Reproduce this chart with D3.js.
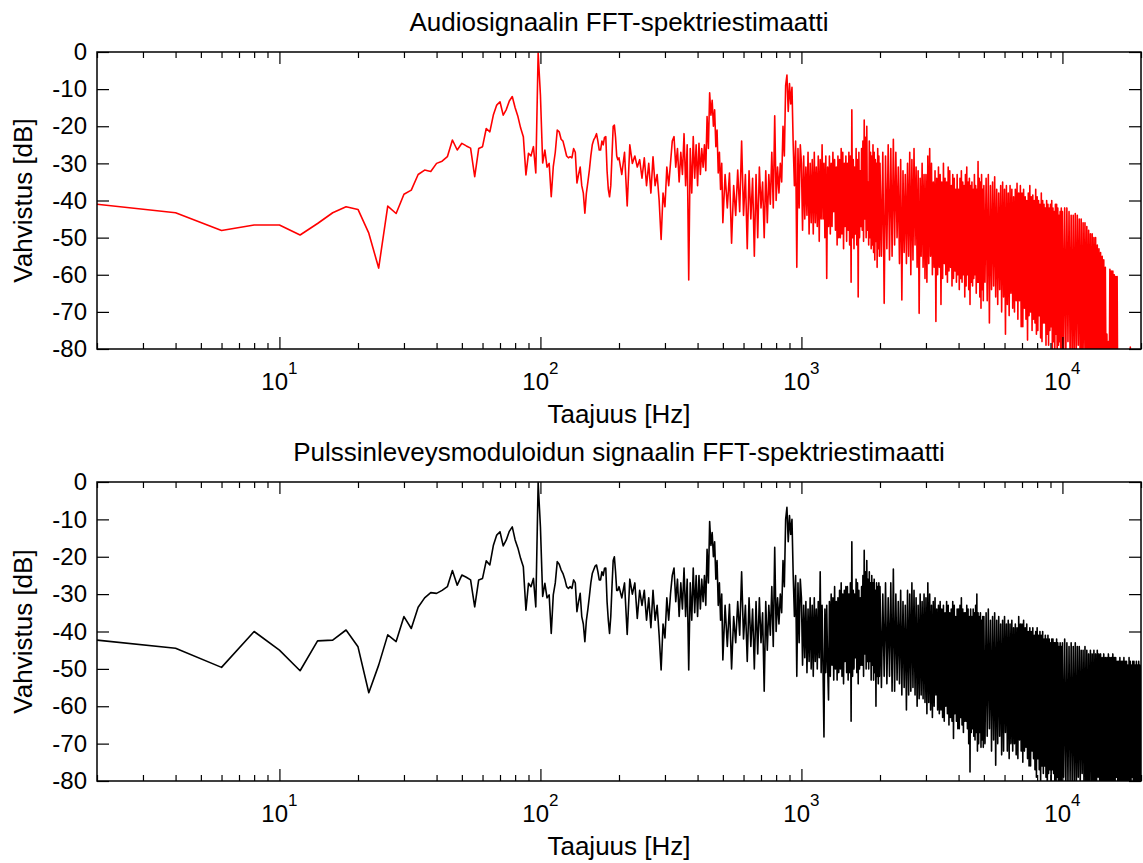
<!DOCTYPE html>
<html>
<head>
<meta charset="utf-8">
<script src="https://d3js.org/d3.v7.min.js"></script>
<style>
  body { margin: 0; background: #fff; }
  text { font-family: Arial, 'Liberation Sans', sans-serif; fill: #000; }
</style>
</head>
<body>
<div id="vis"></div>
<script>
// FFT bin frequencies [Hz] (sampled along the spectrum, denser bins decimated)
const freq = [
  2,4,6,8,10,12,14,16,18,20,
  22,24,26,28,30,32,34,36,38,40,
  42,44,46,48,50,52,54,56,58,60,
  62,64,66,68,70,72,74,76,78,80,
  82,84,86,88,90,92,94,96,98,
  100,102,104,106,108,110,112,114,116,118,
  120,122,124,126,128,130,132,134,136,138,
  140,142,144,146,148,150,152,154,156,158,
  160,162,164,166,168,170,172,174,176,178,
  180,182,184,186,188,190,192,194,196,198,
  200,205,210,215,220,225,230,235,240,245,
  250,255,260,265,270,275,280,285,290,295,
  300,305,310,315,320,325,330,335,340,345,
  350,355,360,365,370,375,380,385,390,395,
  400,405,410,415,420,425,430,435,440,445,
  450,455,460,465,470,475,480,485,490,495,
  500,510,520,530,540,550,560,570,580,590,
  600,610,620,630,640,650,660,670,680,690,
  700,710,720,730,740,750,760,770,780,790,
  800,810,820,830,840,850,860,870,880,890,
  900,910,920,930,940,950,960,970,980,990,
  1000,1010,1020,1030,1040,1050,1060,1070,1080,1090,
  1100,1110,1120,1130,1140,1150,1160,1170,1180,1190,
  1200,1210,1220,1230,1240,1250,1260,1270,1280,1290,
  1300,1310,1320,1330,1340,1350,1360,1370,1380,1390,
  1400,1410,1420,1430,1440,1450,1460,1470,1480,1490,
  1500,1510,1520,1530,1540,1550,1560,1570,1580,1590,
  1600,1610,1620,1630,1640,1650,1660,1670,1680,1690,
  1700,1710,1720,1730,1740,1750,1760,1770,1780,1790,
  1800,1810,1820,1830,1840,1850,1860,1870,1880,1890,
  1900,1910,1920,1930,1940,1950,1960,1970,1980,1990,
  2000,2025,2050,2075,2100,2125,2150,2175,2200,2225,
  2250,2275,2300,2325,2350,2375,2400,2425,2450,2475,
  2500,2525,2550,2575,2600,2625,2650,2675,2700,2725,
  2750,2775,2800,2825,2850,2875,2900,2925,2950,2975,
  3000,3025,3050,3075,3100,3125,3150,3175,3200,3225,
  3250,3275,3300,3325,3350,3375,3400,3425,3450,3475,
  3500,3525,3550,3575,3600,3625,3650,3675,3700,3725,
  3750,3775,3800,3825,3850,3875,3900,3925,3950,3975,
  4000,4025,4050,4075,4100,4125,4150,4175,4200,4225,
  4250,4275,4300,4325,4350,4375,4400,4425,4450,4475,
  4500,4525,4550,4575,4600,4625,4650,4675,4700,4725,
  4750,4775,4800,4825,4850,4875,4900,4925,4950,4975,
  5000,5050,5100,5150,5200,5250,5300,5350,5400,5450,
  5500,5550,5600,5650,5700,5750,5800,5850,5900,5950,
  6000,6050,6100,6150,6200,6250,6300,6350,6400,6450,
  6500,6550,6600,6650,6700,6750,6800,6850,6900,6950,
  7000,7050,7100,7150,7200,7250,7300,7350,7400,7450,
  7500,7550,7600,7650,7700,7750,7800,7850,7900,7950,
  8000,8050,8100,8150,8200,8250,8300,8350,8400,8450,
  8500,8550,8600,8650,8700,8750,8800,8850,8900,8950,
  9000,9050,9100,9150,9200,9250,9300,9350,9400,9450,
  9500,9550,9600,9650,9700,9750,9800,9850,9900,9950,
  10000,10100,10200,10300,10400,10500,10600,10700,10800,10900,
  11000,11100,11200,11300,11400,11500,11600,11700,11800,11900,
  12000,12100,12200,12300,12400,12500,12600,12700,12800,12900,
  13000,13100,13200,13300,13400,13500,13600,13700,13800,13900,
  14000,14100,14200,14300,14400,14500,14600,14700,14800,14900,
  15000,15100,15200,15300,15400,15500,15600,15700,15800,15900,
  16000,16100,16200,16300,16400,16500,16600,16700,16800,16900,
  17000,17100,17200,17300,17400,17500,17600,17700,17800,17900,
  18000,18100,18200,18300,18400,18500,18600,18700,18800,18900,
  19000,19100,19200,19300,19400,19500,19600,19700,19800,19900,
  20000
];

// audio signal spectrum [dB]
const audioDb = [
  -41,-43.3,-48.1,-46.6,-46.6,-49.3,-46.2,-43.3,-41.7,-42.4,
  -48.8,-58.2,-41.5,-43.5,-38.3,-37.2,-33,-31.8,-32.2,-30,
  -29.4,-28.2,-23.7,-26.4,-24.6,-25.3,-25.9,-33.6,-26,-25.5,
  -20.6,-21.5,-17,-14.3,-13.4,-17,-15.5,-13.2,-12,-15,
  -17.4,-20.5,-22.8,-33.1,-27.3,-28,-25.5,-32.6,-0.3,
  -11.6,-29.9,-26.4,-31,-30,-39,-30.9,-27,-21,-21.5,
  -23.5,-24,-26,-28,-28.5,-28.2,-28.5,-26,-27,-35.3,
  -33,-31,-36,-38,-43.4,-38,-35,-31.8,-28,-25,
  -23.7,-23,-22,-24,-26.4,-26.4,-24,-25,-23,-22.8,
  -32,-37,-39,-36,-28,-20,-19.7,-23,-28,-29,
  -28.5,-33,-27,-41.5,-25,-30,-28,-31,-29,-34,
  -28.5,-36,-30,-38,-28.2,-36,-33,-40,-50.5,-38,
  -41.7,-31,-36,-30,-24,-22.8,-31,-26,-35,-27,
  -33,-22,-36,-25,-61.4,-26,-38,-22.8,-34,-25,
  -36,-24.6,-33,-26,-31,-25,-32,-17.4,-26,-11,
  -17,-13,-20,-15.6,-25.5,-21,-32.6,-27,-37,-30,
  -46,-33,-42,-32.6,-51.5,-36,-44,-31.8,-43,-24,
  -44,-33,-53,-32,-45,-34,-55,-33,-50,-31,
  -42,-35,-50,-32,-46,-33,-41,-27,-42,-17.2,
  -40,-31,-38,-30,-35,-20,-28,-9,-6.2,-16,
  -8.5,-14,-9.5,-25,-36,-24,-58,-26,-42,-25,
  -30,-48,-28,-45,-31,-44,-27,-49,-30,-46,
  -29,-49,-27,-46,-31,-47,-28,-51,-29,-45,
  -25,-45,-30,-50,-28,-61,-31,-47,-28,-49,
  -30,-47,-27,-43,-29,-48,-31,-52,-28,-50,
  -29,-50,-26,-49,-27,-53,-30,-47,-28,-51,
  -30,-48,-27,-52,-28,-62,-15.6,-50,-29,-53,
  -31,-49,-26,-52,-29,-66,-27,-50,-32,-47,
  -26,-48,-24,-51,-18.3,-45,-23,-50,-20,-48,
  -35,-52,-24,-50,-27,-53,-28,-52,-25,-54,
  -27,-56,-29,-51,-30,-58,-26,-53,-28,-55,
  -30,-55,-27,-67.7,-28,-53,-25,-56,-26,-55,
  -23.5,-52,-27,-50,-31,-57,-29,-66.8,-32,-54,
  -33,-57,-30,-55,-27,-60,-29,-56,-26,-52,
  -31,-58,-32,-70.4,-34,-55,-30,-58,-33,-61,
  -33,-62,-28,-57,-26,-55,-30,-60,-35,-58,
  -32,-72.6,-34,-60,-31,-58,-33,-68,-35,-61,
  -30,-57,-34,-60,-35,-62,-31,-59,-32,-58,
  -36,-63,-33,-61,-34,-59,-37,-62,-33,-60,
  -37,-64,-34,-61,-32,-62,-35,-60,-36,-66,
  -33,-63,-31,-60,-35,-64,-34,-68,-36,-62,
  -35,-63,-37,-61,-33,-60,-36,-65,-37,-62,
  -29.5,-62,-34,-66,-35,-69,-33,-64,-37,-67,
  -36,-62,-34,-67,-33,-73,-36,-64,-35,-63,
  -33.6,-66,-37,-68,-38,-64,-36,-70,-35,-66,
  -37,-76,-36,-68,-38,-71,-36,-65,-37,-69,
  -39,-70,-37,-67,-35.4,-72,-38,-67,-36,-74,
  -38,-74,-37,-69,-39,-72,-40,-77.6,-38,-71,
  -36,-70,-39,-75,-38.5,-72,-40,-73,-37,-76,
  -39,-75,-40,-71,-41,-77,-38,-78,-40,-73,
  -41,-73,-42,-79,-40,-76,-41,-79,-42,-75,
  -41,-74,-40,-82,-42,-78,-43,-80,-41,-76,
  -41,-85,-42,-79,-44,-78,-43,-83,-42,-80,
  -43,-80,-42,-84,-42,-78,-43,-82,-44,-86,
  -44,-85,-43.5,-81,-44,-79,-45,-87,-45,-88,
  -46,-80,-46,-85,-47,-86,-48,-83,-49,-90,
  -49,-84,-50,-88,-50,-90,-52,-86,-53,-88,
  -54,-90,-55,-92,-56,-89,-58,-92,-76,-88,
  -78,-95,-58.5,-90,-59,-94,-59,-93,-60,-91,
  -60.5,-96,-60.5,-98,-100,-104,-102,-100,-103,-105,
  -105,-102,-104,-103,-104,-101,-102,-103,-104,-102,
  -98,-95,-79.5,-96,-99,-104,-102,-105,-103,-104,
  -105,-103,-106,-104,-104,-106,-105,-106,-104,-106,
  -105
];

// pulse-width modulated signal spectrum [dB]
const pwmDb = [
  -42.3,-44.5,-49.6,-40,-45,-50.5,-42.5,-42.3,-39.6,-44.1,
  -56.4,-49,-40.9,-42.7,-36,-39.2,-33.5,-31,-29.6,-29.8,
  -29,-28,-23.7,-27.6,-24.9,-25.5,-26.2,-33.4,-26.2,-25.8,
  -21.1,-22.2,-17,-14.2,-13.3,-17.1,-15.5,-13.2,-12,-15.5,
  -17.7,-20.5,-22.7,-34.3,-27.1,-28,-25.8,-33.4,-0.2,
  -12,-30.6,-27.1,-31,-30.2,-40.5,-30.2,-27,-21.3,-22,
  -23.5,-24.5,-26,-28,-28.5,-28,-28.5,-26.2,-27,-34.7,
  -32,-29.8,-36,-38,-42.7,-37,-34,-30.6,-27,-24.5,
  -23.5,-22.5,-22.2,-24,-26.2,-26.2,-24,-25,-23.1,-23,
  -32,-37,-40.5,-36,-28,-21,-20,-24,-29,-29,
  -28,-31,-27,-40.8,-26,-30,-27,-36.5,-29,-33,
  -29,-37,-31,-39,-29,-37,-33,-41,-50.3,-38,
  -41.7,-31,-37,-30,-25,-23,-32,-26,-36,-27,
  -34,-23,-36,-26,-50.3,-27,-37,-23,-35,-25,
  -36,-25,-34,-26,-32,-25,-33,-18,-27,-10.6,
  -17,-13.5,-20,-16,-26,-21,-33,-27,-37,-30,
  -47.6,-33,-44,-32.7,-50,-36,-43,-32,-41,-24,
  -42,-33,-48,-31,-44,-34,-50,-32,-46,-31,
  -43,-35,-56,-32,-45,-33,-41,-28,-44,-17.5,
  -40,-31,-38,-30,-35,-21,-28,-10,-6.8,-16,
  -9,-14,-10,-25,-36,-25,-52,-27,-43,-26,
  -31,-49,-33,-47,-32,-51,-34,-48,-31,-50,
  -33,-52,-31,-48,-34,-50,-32,-47,-24,-51,
  -33,-50,-68.2,-34,-51,-33,-49,-58.3,-32,-52,
  -30,-49,-31,-53,-28,-50,-32,-53,-31,-51,
  -29,-50,-27,-52,-30,-54,-29,-48,-28,-51,
  -28,-53,-30,-51,-27,-64,-16,-52,-29,-50,
  -30,-47,-26,-51,-27,-54,-29,-50,-31,-49,
  -28,-49,-25,-52,-18.3,-46,-24,-50,-21,-48,
  -26,-50,-24,-48,-27,-53,-25,-49,-27,-53,
  -26,-51,-29,-60,-27,-52,-28,-54,-27,-52,
  -28,-55,-30,-52,-27,-54,-31,-52,-27,-56,
  -23.3,-56,-30,-53,-32,-54,-29,-57,-32,-55,
  -33,-61,-29,-57,-30,-56,-27,-55,-29,-57,
  -31,-60,-33,-58,-30,-57,-32,-58,-30,-59,
  -31,-62,-27,-59,-30,-61,-33,-63,-32,-60,
  -31,-57,-34,-61,-33,-62,-32,-61,-34,-63,
  -33,-64,-35,-60,-32,-62,-33,-65,-35,-63,
  -34,-64,-32,-68.6,-33,-62,-36,-64,-34,-66,
  -34,-66,-33,-63,-31,-65,-34,-67,-35,-64,
  -35,-64,-33,-66,-34,-70,-36,-77.6,-34,-67,
  -36,-66,-34,-68,-35,-69,-33,-67,-30,-72,
  -35,-70,-36,-67,-35,-71,-37,-69,-36,-71,
  -36,-70,-35,-68,-34,-66,-37,-72,-36,-69,
  -35,-75.8,-37,-70,-36,-68,-38,-73,-37,-72,
  -36,-67,-38,-72,-37,-74,-38,-70,-37,-72,
  -39,-70,-38,-73,-39,-74,-36,-69,-38,-72,
  -38,-75,-37,-72,-39,-71,-38,-74,-40,-76,
  -39,-76,-40,-72,-39,-74,-41,-77,-40,-79,
  -39,-74,-41,-77,-40,-81,-41,-76,-40,-78,
  -42,-76,-41,-79,-42,-83,-41,-78,-42,-77,
  -43,-80,-42,-77,-42,-78,-43,-81,-43,-85,
  -42,-79,-43,-82,-44,-80,-43,-82,-44,-84,
  -43,-79,-42,-84,-43,-81,-44,-80,-43,-83,
  -44,-80,-43,-86,-44,-79,-44,-82,-45,-78,
  -45,-83,-44,-85,-45,-88,-46,-81,-45,-80,
  -46,-85,-45,-82,-46,-86,-45,-79,-46,-84,
  -46,-87,-47,-81,-46,-82,-47,-85,-47,-90,
  -46,-84,-47,-80,-47,-86,-46,-82,-47,-88,
  -47,-79,-48,-85,-48,-88,-47,-83,-48,-84,
  -48,-80,-47,-86,-48,-80,-48,-85,-49,-90,
  -47,-83,-48,-86,-49,-79,-48,-84,-48,-88,
  -49,-82,-48,-85,-49,-82,-48,-86,-49,-83,
  -49
];

const yTicks = [0, -10, -20, -30, -40, -50, -60, -70, -80];
const xDecades = [10, 100, 1000, 10000];
const xMinor = [2,3,4,5,6,7,8,9, 20,30,40,50,60,70,80,90,
  200,300,400,500,600,700,800,900, 2000,3000,4000,5000,6000,7000,8000,9000, 20000];

const titles = ['Audiosignaalin FFT-spektriestimaatti',
  'Pulssinleveysmoduloidun signaalin FFT-spektriestimaatti'];
const xLabel = 'Taajuus [Hz]';
const yLabel = 'Vahvistus [dB]';

if (audioDb.length !== freq.length || pwmDb.length !== freq.length)
  throw new Error('length mismatch ' + freq.length + ' ' + audioDb.length + ' ' + pwmDb.length);

const W = 1143, H = 863;
const left = 97, right = 1141;
const panels = [
  { title: titles[0], values: audioDb, color: '#ff0000', top: 52, bottom: 349 },
  { title: titles[1], values: pwmDb, color: '#000000', top: 482, bottom: 781 }
];

const svg = d3.select('#vis').append('svg').attr('width', W).attr('height', H);
const x = d3.scaleLog().domain([2, 20000]).range([left, right]);

function styleAxis(g) {
  g.select('.domain').remove();
  g.selectAll('.tick line').attr('stroke', '#000').attr('stroke-width', 1.2);
  g.attr('font-size', 24).attr('font-family', "Arial, 'Liberation Sans', sans-serif");
  g.selectAll('.tick text').attr('fill', '#000');
}

panels.forEach((p, i) => {
  const y = d3.scaleLinear().domain([-80, 0]).range([p.bottom, p.top]);
  const g = svg.append('g');

  g.append('clipPath').attr('id', 'clip' + i)
    .append('rect')
    .attr('x', left).attr('y', p.top)
    .attr('width', right - left).attr('height', p.bottom - p.top);

  const pts = freq.map((f, k) => [f, p.values[k]]);
  const line = d3.line().x(d => x(d[0])).y(d => y(d[1]));
  g.append('path')
    .datum(pts)
    .attr('clip-path', `url(#clip${i})`)
    .attr('fill', 'none')
    .attr('stroke', p.color)
    .attr('stroke-width', 1.6)
    .attr('stroke-linejoin', 'round')
    .attr('d', line);

  // y axes, ticks pointing inward
  g.append('g').attr('transform', `translate(${left},0)`)
    .call(d3.axisLeft(y).tickValues(yTicks).tickSizeInner(-12).tickSizeOuter(0)
      .tickPadding(10).tickFormat(d => String(d)))
    .call(styleAxis);
  g.append('g').attr('transform', `translate(${right},0)`)
    .call(d3.axisRight(y).tickValues(yTicks).tickSizeInner(-12).tickSizeOuter(0).tickFormat(''))
    .call(styleAxis);

  // x axes: major and minor ticks on bottom and top
  g.append('g').attr('transform', `translate(0,${p.bottom})`)
    .call(d3.axisBottom(x).tickValues(xDecades).tickSizeInner(-12).tickSizeOuter(0).tickFormat(''))
    .call(styleAxis);
  g.append('g').attr('transform', `translate(0,${p.bottom})`)
    .call(d3.axisBottom(x).tickValues(xMinor).tickSizeInner(-6).tickSizeOuter(0).tickFormat(''))
    .call(styleAxis);
  g.append('g').attr('transform', `translate(0,${p.top})`)
    .call(d3.axisTop(x).tickValues(xDecades).tickSizeInner(-12).tickSizeOuter(0).tickFormat(''))
    .call(styleAxis);
  g.append('g').attr('transform', `translate(0,${p.top})`)
    .call(d3.axisTop(x).tickValues(xMinor).tickSizeInner(-6).tickSizeOuter(0).tickFormat(''))
    .call(styleAxis);

  // frame
  g.append('rect')
    .attr('x', left).attr('y', p.top)
    .attr('width', right - left).attr('height', p.bottom - p.top)
    .attr('fill', 'none').attr('stroke', '#000').attr('stroke-width', 1.5);

  // decade labels 10^n
  const lab = g.selectAll('.xlab').data(xDecades).enter().append('text')
    .attr('class', 'xlab')
    .attr('x', d => x(d))
    .attr('y', p.bottom + 41)
    .attr('text-anchor', 'middle')
    .attr('font-size', 24);
  lab.append('tspan').text('10');
  lab.append('tspan').attr('dy', -16).attr('font-size', 17).text(d => Math.round(Math.log10(d)));

  // title and axis labels
  const cx = (left + right) / 2;
  g.append('text').attr('x', cx).attr('y', p.top - 21)
    .attr('text-anchor', 'middle').attr('font-size', 26).text(p.title);
  g.append('text').attr('x', cx).attr('y', p.bottom + 74)
    .attr('text-anchor', 'middle').attr('font-size', 26).text(xLabel);
  g.append('text')
    .attr('transform', `translate(32,${(p.top + p.bottom) / 2}) rotate(-90)`)
    .attr('text-anchor', 'middle').attr('font-size', 26).text(yLabel);
});
</script>
</body>
</html>
